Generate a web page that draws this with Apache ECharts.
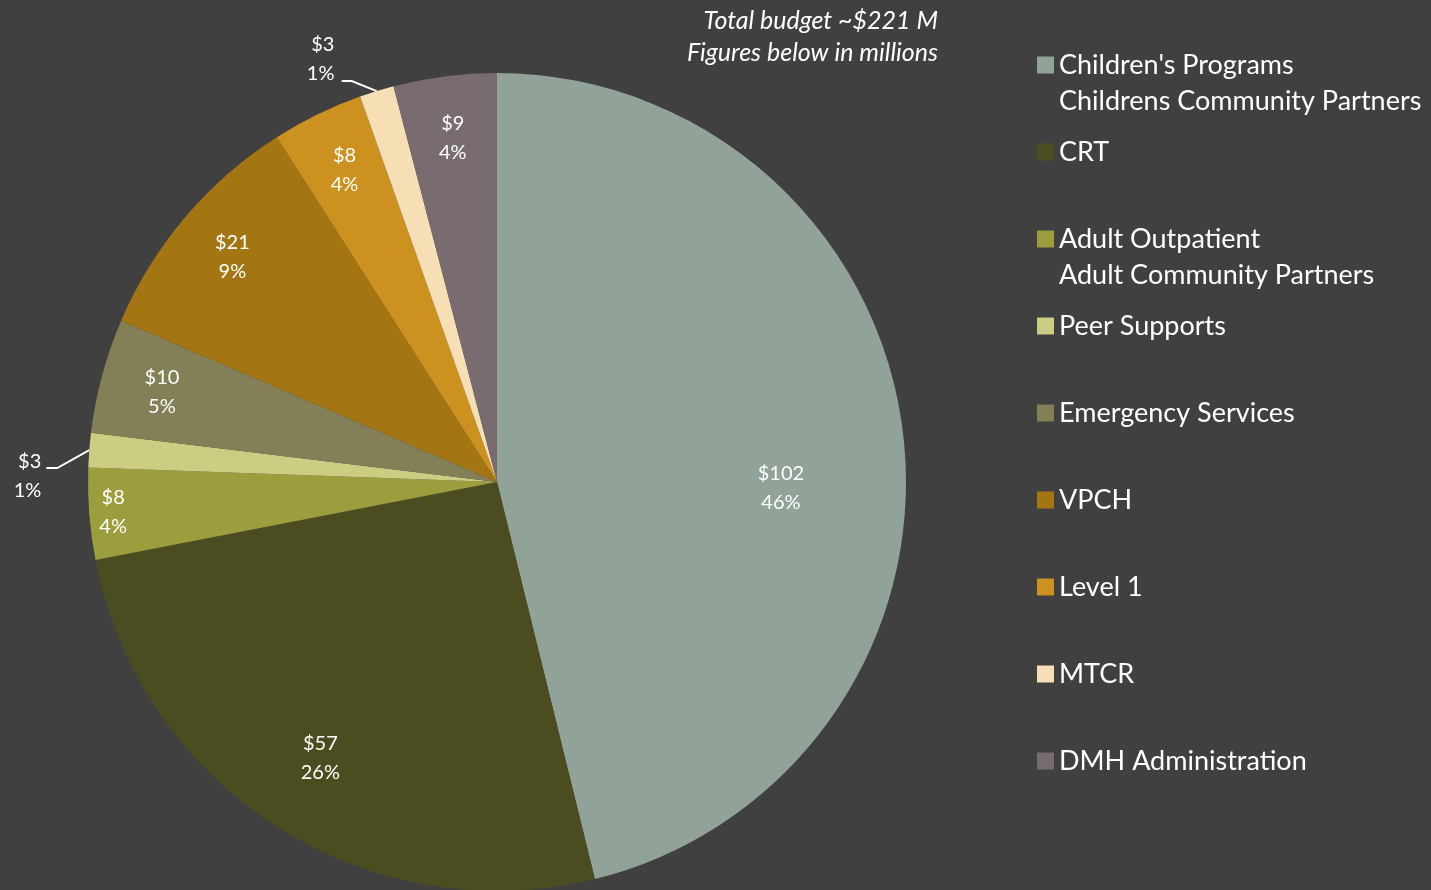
<!DOCTYPE html>
<html lang="en">
<head>
    <meta charset="UTF-8">
    <title>Budget breakdown</title>
    <script src="https://cdn.jsdelivr.net/npm/echarts@6.0.0/dist/echarts.min.js"></script>
    <style>
        html, body { margin: 0; padding: 0; background: #404040; }
        #chart { width: 1431px; height: 890px; }
    </style>
</head>
<body>
<div id="chart"></div>

<script>
    // data (millions, and the shown percentages)
    var programs = [
        "Children's Programs\nChildrens Community Partners",
        'CRT',
        'Adult Outpatient\nAdult Community Partners',
        'Peer Supports',
        'Emergency Services',
        'VPCH',
        'Level 1',
        'MTCR',
        'DMH Administration'
    ];
    var amounts = [102, 57, 8, 3, 10, 21, 8, 3, 9];
    var shares = [46, 26, 4, 1, 5, 9, 4, 1, 4];
    var colors = ['#91a398', '#4b4d20', '#9c9e3d', '#cbcd83', '#837f57', '#a47613', '#cd911f', '#f6dfb5', '#786c71'];
    var outsideLabels = ['Peer Supports', 'MTCR'];

    var center = [497, 482];
    var R = 409;

    function labelText(params) {
        return '$' + params.value + '\n' + shares[params.dataIndex] + '%';
    }

    var mainData = programs.map(function (name, i) {
        var item = {name: name, value: amounts[i], itemStyle: {color: colors[i]}};
        if (outsideLabels.indexOf(name) >= 0) {
            item.label = {show: true};
            item.labelLine = {show: true};
        }
        return item;
    });

    // transparent ring used only to place the inside labels at a given distance
    function labelRing(names, mid, offset) {
        return {
            type: 'pie',
            center: center,
            radius: [mid - 20, mid + 20],
            silent: true,
            avoidLabelOverlap: false,
            emphasis: {disabled: true},
            itemStyle: {color: 'transparent', borderWidth: 0},
            label: {
                position: 'inside',
                formatter: labelText,
                color: '#ffffff',
                fontFamily: 'Lato',
                fontSize: 20,
                lineHeight: 29,
                offset: offset || [0, 0]
            },
            labelLine: {show: false},
            data: programs.map(function (name, i) {
                return {name: name, value: amounts[i], label: {show: names.indexOf(name) >= 0}};
            })
        };
    }

    // leader line: bend from the slice edge, then a short flat run
    function bentLine(params, bx, by, run) {
        var p0 = params.labelLinePoints[0];
        return [p0, [p0[0] + bx, p0[1] + by], [p0[0] + bx - run, p0[1] + by]];
    }

    var chart = echarts.init(document.getElementById('chart'));
    var option = {
        backgroundColor: '#404040',
        animation: false,
        title: {
            text: 'Total budget ~$221 M\nFigures below in millions',
            left: 938,
            top: 5,
            textAlign: 'right',
            padding: 0,
            textStyle: {
                color: '#ffffff',
                fontFamily: 'Lato',
                fontStyle: 'italic',
                fontWeight: 'normal',
                fontSize: 25,
                lineHeight: 32
            }
        },
        legend: {
            orient: 'vertical',
            left: 1037,
            top: 11,
            padding: 0,
            itemGap: -21,
            itemWidth: 17,
            itemHeight: 17,
            icon: 'rect',
            selectedMode: false,
            data: programs,
            formatter: function (name) {
                // blank first line keeps the box on the first text line
                return ' \n' + (name.indexOf('\n') < 0 ? name + '\n ' : name);
            },
            textStyle: {
                color: '#ffffff',
                fontFamily: 'Lato',
                fontSize: 27,
                lineHeight: 36
            }
        },
        series: [
            {
                type: 'pie',
                center: center,
                radius: [0, R],
                startAngle: 90,
                clockwise: true,
                avoidLabelOverlap: false,
                emphasis: {disabled: true},
                itemStyle: {borderWidth: 0},
                label: {
                    show: false,
                    position: 'outside',
                    formatter: labelText,
                    color: '#ffffff',
                    fontFamily: 'Lato',
                    fontSize: 20,
                    lineHeight: 29,
                    distanceToLabelLine: 3
                },
                labelLine: {
                    show: false,
                    length: 18,
                    length2: 12,
                    lineStyle: {color: '#ffffff', width: 2}
                },
                labelLayout: function (params) {
                    var name = programs[params.dataIndex];
                    if (name === 'Peer Supports') {
                        return {dx: -15, dy: 27, labelLinePoints: bentLine(params, -32, 18, 11)};
                    }
                    if (name === 'MTCR') {
                        return {dx: -22, dy: -15, labelLinePoints: bentLine(params, -25, -10, 10)};
                    }
                },
                data: mainData
            },
            labelRing([programs[0]], 283, [0, 41]),
            labelRing(['CRT'], 325),
            labelRing([programs[2]], 382),
            labelRing(['Emergency Services', 'VPCH', 'Level 1', 'DMH Administration'], 344)
        ]
    };

    chart.setOption(option);
</script>
</body>
</html>
